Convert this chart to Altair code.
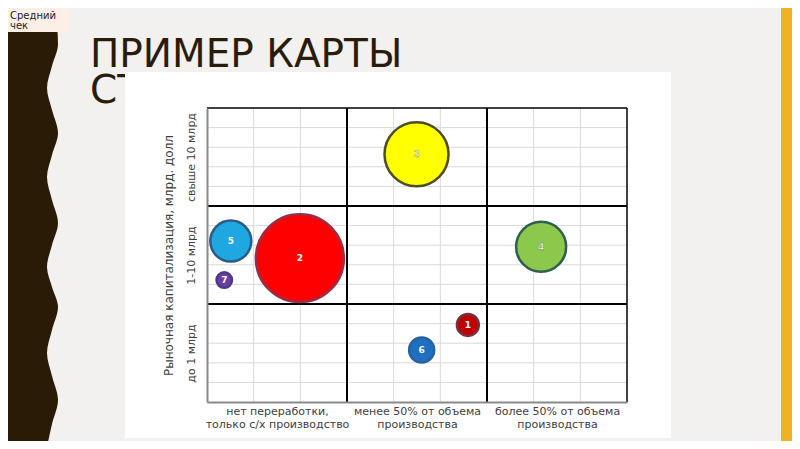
import json
import altair as alt
import pandas as pd

# ---------------- data ----------------
bubble_ids = ["1", "2", "3", "4", "5", "6", "7"]
bubble_x = [5.59, 1.99, 4.49, 7.16, 0.51, 4.60, 0.37]
bubble_y = [3.93, 7.34, 12.64, 7.92, 8.21, 2.65, 6.22]
bubble_size = [4.8, 77.4, 41.0, 25.0, 16.8, 6.3, 2.4]
bubble_fill = ["#c00000", "#ff0000", "#ffff00", "#8cc84b", "#1ea7e1", "#1f6fbf", "#6b3fa0"]
bubble_stroke = ["#7a2f3c", "#9b2c48", "#4d4d26", "#2f5f4f", "#2d5b86", "#2462a3", "#4b3a8a"]
label_fill = ["#ffffff", "#ffffff", "#fbfbe0", "#f4f8ec", "#ffffff", "#ffffff", "#ffffff"]
label_stroke = ["transparent", "transparent", "#8a8a4a", "#5f7f5f", "transparent", "transparent", "transparent"]

x_centers = [1.5, 4.5, 7.5]
x_labels = [["нет переработки,", "только с/х производство"],
            ["менее 50% от объема", "производства"],
            ["более 50% от объема", "производства"]]
y_centers = [2.5, 7.5, 12.5]
y_labels = ["до 1 млрд", "1-10 млрд", "свыше 10 млрд"]
y_title = "Рыночная капитализация, млрд. долл"

minor_x = [1, 2, 4, 5, 7, 8]
minor_y = [1, 2, 3, 4, 6, 7, 8, 9, 11, 12, 13, 14]
major_x = [3, 6]
major_y = [5, 10]
frame_x = [9]
frame_y = [15]

# decorative wavy edge of the slide (page pixel coordinates)
wave_y = [25, 44, 66, 88, 110, 133, 155, 177, 200, 223, 245, 267, 287, 307, 330, 353, 376, 400, 424, 447]
wave_x = [57, 58, 52, 47, 52, 58, 52, 47, 52, 58, 52, 47, 52, 58, 52, 47, 52, 58, 52, 47]

FONT = "DejaVu Sans"
TXT = "#404040"

# ---------------- helpers ----------------
def label_expr(centers, labels):
    expr = json.dumps(labels[-1], ensure_ascii=False)
    for c, l in reversed(list(zip(centers[:-1], labels[:-1]))):
        expr = f"datum.value == {c} ? {json.dumps(l, ensure_ascii=False)} : ({expr})"
    return expr

one = alt.Data(values=[{"a": 1}])

def rect(x1, x2, y1, y2, color):
    return alt.Chart(one).mark_rect(color=color).encode(
        x=alt.value(x1), x2=alt.value(x2), y=alt.value(y1), y2=alt.value(y2))

def text(t, x, y, size, color, weight="normal"):
    return alt.Chart(one).mark_text(text=t, align="left", baseline="alphabetic",
                                    font=FONT, fontSize=size, color=color,
                                    fontWeight=weight).encode(
        x=alt.value(x), y=alt.value(y))

# ---------------- decoration layer (own scales, page pixels) ----------------
wave = alt.Chart(pd.DataFrame({"px": wave_x, "py": wave_y})).mark_area(
    orient="horizontal", interpolate="monotone", color="#2a1b07").encode(
    y=alt.Y("py:Q", scale=alt.Scale(domain=[108, 402], reverse=True, nice=False, zero=False), axis=None),
    x=alt.X("px:Q", scale=alt.Scale(domain=[207, 627], nice=False, zero=False), axis=None),
    x2=alt.datum(0),
)

# ---------------- main chart ----------------
sx = alt.Scale(domain=[0, 9], nice=False, zero=False)
sy = alt.Scale(domain=[0, 15], nice=False, zero=False)

x_axis = alt.Axis(values=x_centers, labelExpr=label_expr(x_centers, x_labels), title=None,
                  orient="bottom", ticks=False, tickSize=0, grid=False,
                  domainColor="#8a8a8a", domainWidth=2, labelFont=FONT, labelFontSize=11,
                  labelColor=TXT, labelPadding=3, labelLineHeight=13.5,
                  labelOverlap=False, labelFlush=False, labelBound=False, zindex=1)
y_axis = alt.Axis(values=y_centers, labelExpr=label_expr(y_centers, y_labels), title=y_title,
                  orient="left", ticks=False, tickSize=0, grid=False,
                  domainColor="#8a8a8a", domainWidth=2, labelFont=FONT, labelFontSize=11,
                  labelColor=TXT, labelPadding=11, labelAngle=270, labelAlign="center",
                  labelBaseline="bottom", labelOverlap=False, labelFlush=False, labelBound=False,
                  titleFont=FONT, titleFontSize=12, titleFontWeight="normal", titleColor=TXT,
                  titlePadding=10, zindex=1)

minor_v = alt.Chart(pd.DataFrame({"v": minor_x})).mark_rule(color="#d9d9d9", strokeWidth=1).encode(
    x=alt.X("v:Q", scale=sx, axis=x_axis))
minor_h = alt.Chart(pd.DataFrame({"v": minor_y})).mark_rule(color="#d9d9d9", strokeWidth=1).encode(
    y=alt.Y("v:Q", scale=sy, axis=y_axis))
major_v = alt.Chart(pd.DataFrame({"v": major_x})).mark_rule(color="#000000", strokeWidth=2).encode(
    x=alt.X("v:Q", scale=sx, axis=x_axis))
major_h = alt.Chart(pd.DataFrame({"v": major_y})).mark_rule(color="#000000", strokeWidth=2).encode(
    y=alt.Y("v:Q", scale=sy, axis=y_axis))
frame_v = alt.Chart(pd.DataFrame({"v": frame_x})).mark_rule(color="#000000", strokeWidth=1.5).encode(
    x=alt.X("v:Q", scale=sx, axis=x_axis))
frame_h = alt.Chart(pd.DataFrame({"v": frame_y})).mark_rule(color="#000000", strokeWidth=1.5).encode(
    y=alt.Y("v:Q", scale=sy, axis=y_axis))

bdf = pd.DataFrame({"id": bubble_ids, "x": bubble_x, "y": bubble_y, "s": bubble_size,
                    "fill": bubble_fill, "stroke": bubble_stroke,
                    "lfill": label_fill, "lstroke": label_stroke})
bdf = bdf.sort_values("s", ascending=False)

# Vega symbol size = area of the bounding square, so diameter = sqrt(size)
bubbles = alt.Chart(bdf).mark_circle(opacity=1, strokeWidth=2.5).encode(
    x=alt.X("x:Q", scale=sx, axis=x_axis),
    y=alt.Y("y:Q", scale=sy, axis=y_axis),
    size=alt.Size("s:Q", scale=alt.Scale(domain=[0, 100], range=[0, 10000]), legend=None),
    color=alt.Color("fill:N", scale=None),
    stroke=alt.Stroke("stroke:N", scale=None),
)
labels = alt.Chart(bdf).mark_text(font=FONT, fontSize=9, fontWeight="bold",
                                  align="center", baseline="middle", strokeWidth=0.35).encode(
    x=alt.X("x:Q", scale=sx, axis=x_axis),
    y=alt.Y("y:Q", scale=sy, axis=y_axis),
    text="id:N",
    color=alt.Color("lfill:N", scale=None),
    stroke=alt.Stroke("lstroke:N", scale=None),
)

main = alt.layer(
    rect(-199, -139, -100, -76, "#fcefe6"),
    text("Средний", -197, -89.5, 10, "#222222"),
    text("чек", -197, -79, 10, "#222222"),
    rect(574, 590, -100, 340, "#f2b124"),
    text("ПРИМЕР КАРТЫ", -117, -41.5, 39, "#2a1c0b"),
    text("СТ", -117, -5, 39, "#2a1c0b"),
    rect(-82, 464, -36, 330, "#ffffff"),
    minor_v, minor_h, major_v, major_h, frame_v, frame_h,
    bubbles, labels,
)

chart = alt.layer(wave, main).resolve_scale(x="independent", y="independent").properties(
    width=420, height=294,
    autosize=alt.AutoSizeParams(type="none"),
    padding={"left": 199, "top": 100, "right": 165, "bottom": 39},
    background="#f2f1ef",
).configure_view(strokeWidth=0)

chart.save("out.html", embed_options={"renderer": "svg", "actions": False})
